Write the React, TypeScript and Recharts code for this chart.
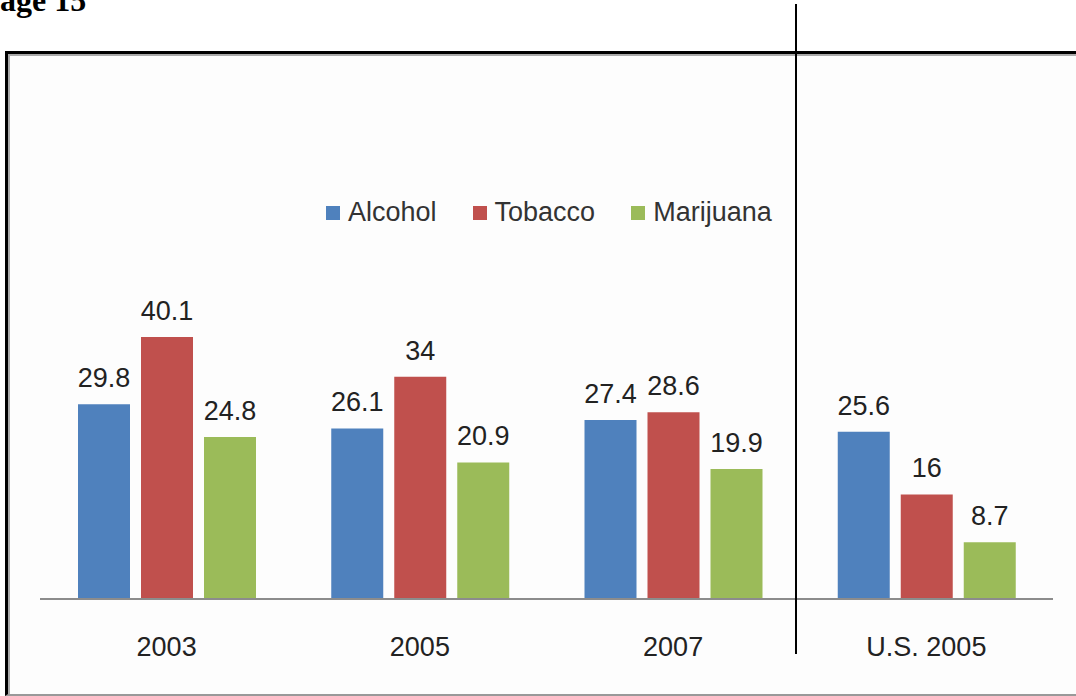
import React from 'react';
import { BarChart, Bar, XAxis, YAxis, LabelList } from 'recharts';

const categories = ['2003', '2005', '2007', 'U.S. 2005'];
const alcohol = [29.8, 26.1, 27.4, 25.6];
const tobacco = [40.1, 34, 28.6, 16];
const marijuana = [24.8, 20.9, 19.9, 8.7];

const seriesNames = ['Alcohol', 'Tobacco', 'Marijuana'];
const seriesColors = ['#4F81BD', '#C0504D', '#9BBB59'];

const data = categories.map((c, i) => ({
  name: c,
  Alcohol: alcohol[i],
  Tobacco: tobacco[i],
  Marijuana: marijuana[i],
}));

const FONT = "'Liberation Sans', Arial, sans-serif";

const LegendRow = () => (
  <div style={{ display: 'flex', alignItems: 'center', fontFamily: FONT, fontSize: 27, color: '#333' }}>
    {seriesNames.map((s, i) => (
      <div key={s} style={{ display: 'flex', alignItems: 'center', marginRight: i < 2 ? 36 : 0 }}>
        <span style={{ width: 14, height: 14, background: seriesColors[i], marginRight: 8, display: 'inline-block' }} />
        <span>{s}</span>
      </div>
    ))}
  </div>
);

export default function App() {
  return (
    <div style={{ position: 'absolute', left: 0, top: 0, width: 1076, height: 696, overflow: 'hidden', background: '#fff' }}>
      {/* cut-off heading from the page above */}
      <div style={{ position: 'absolute', left: 0, top: -18, fontFamily: "'Liberation Serif', serif", fontWeight: 'bold', fontSize: 32, color: '#000' }}>
        age 15
      </div>

      {/* chart frame */}
      <div style={{ position: 'absolute', left: 5, top: 51, width: 1100, height: 645, boxSizing: 'border-box', borderTop: '3px solid #000', borderLeft: '3px solid #000', borderBottom: '2px solid #999', background: '#fdfdfd' }}>
        <div style={{ position: 'absolute', left: 0, top: 0, right: 0, bottom: 0, borderTop: '2px solid #aaa', borderLeft: '2px solid #aaa' }} />
      </div>

      <div style={{ position: 'absolute', left: 0, top: 0 }}>
        <BarChart
          width={1076}
          height={696}
          data={data}
          margin={{ top: 305, right: 23, left: 40, bottom: 0 }}
          barSize={52}
          barGap={11}
        >
          <XAxis
            dataKey="name"
            height={97}
            axisLine={{ stroke: '#8c8c8c', strokeWidth: 2 }}
            tickLine={false}
            tickMargin={32}
            tick={{ fontSize: 27, fill: '#222', fontFamily: FONT }}
          />
          <YAxis hide domain={[0, 45]} />
          {seriesNames.map((s, i) => (
            <Bar key={s} dataKey={s} fill={seriesColors[i]} isAnimationActive={false}>
              <LabelList dataKey={s} position="top" offset={17} style={{ fontSize: 27, fill: '#222', fontFamily: FONT }} />
            </Bar>
          ))}
        </BarChart>
      </div>

      <div style={{ position: 'absolute', left: 326, top: 197 }}>
        <LegendRow />
      </div>

      {/* page column rule crossing the chart */}
      <div style={{ position: 'absolute', left: 795, top: 4, width: 2, height: 650, background: '#000' }} />
    </div>
  );
}
